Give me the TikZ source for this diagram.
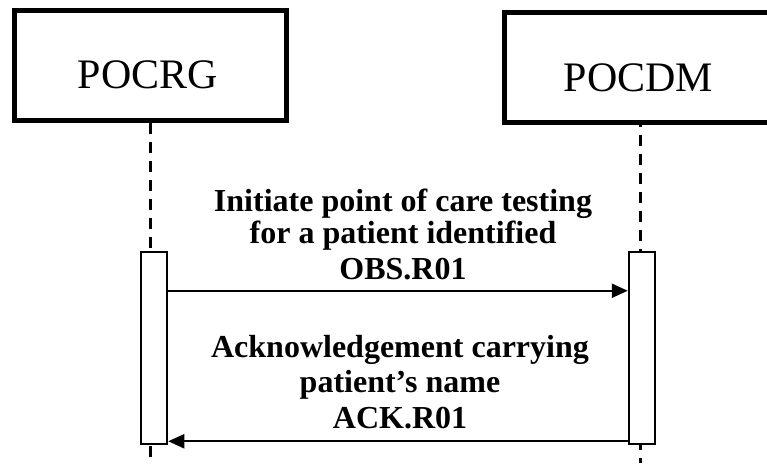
\documentclass[tikz,border=0pt]{standalone}
\usepackage{fontspec}
\setmainfont{Liberation Serif}
\usetikzlibrary{arrows.meta}
\begin{document}
\begin{tikzpicture}[x=1pt,y=-1pt,
  actor/.style={draw,line width=5pt,minimum width=272pt,minimum height=110pt,inner sep=0pt},
  actorlabel/.style={font=\fontsize{42}{50}\selectfont,anchor=base,inner sep=0pt},
  lifeline/.style={line width=3pt,dash pattern=on 11pt off 8pt},
  activation/.style={draw,line width=2.5pt,fill=white,minimum width=26pt,minimum height=192pt,inner sep=0pt},
  msg/.style={line width=2.2pt,-{Triangle[length=16pt,width=14pt]}},
  msglabel/.style={font=\bfseries\fontsize{32}{38}\selectfont,anchor=base,inner sep=0pt}]
\useasboundingbox (0,0) rectangle (767,463);
\begin{scope}
\clip (0,0) rectangle (767,463);
% actors
\node[actor] (rg) at (150,65.75) {};
\node[actor] (dm) at (640.5,67.25) {};
\node[actorlabel] (rgl) at (148,88) {POCRG};
\node[actorlabel] (dml) at (638.5,91) {POCDM};
% lifelines
\coordinate (rgbot) at (rg.south |- 0,463);
\coordinate (dmbot) at (dm.south |- 0,463);
\draw[lifeline] (rg.south) -- (rgbot);
\draw[lifeline,dash phase=-10pt] (dm.south) -- (dmbot);
% activations
\node[activation] (a1) at (154,348) {};
\node[activation] (a2) at (642,348) {};
% messages
\draw[msg] ([yshift=-40pt]a1.north east) -- ([yshift=-40pt]a2.north west);
\draw[msg] ([yshift=4pt]a2.south west) -- ([yshift=4pt]a1.south east);
% labels
\node[msglabel] (m1a) at (403,211) {Initiate point of care testing};
\node[msglabel] (m1b) at (403,243) {for a patient identified};
\node[msglabel] (m1c) at (403,279) {OBS.R01};
\node[msglabel] (m2a) at (400,357) {Acknowledgement carrying};
\node[msglabel] (m2b) at (400,392) {patient’s name};
\node[msglabel] (m2c) at (400,428) {ACK.R01};
\end{scope}
\end{tikzpicture}
\end{document}
